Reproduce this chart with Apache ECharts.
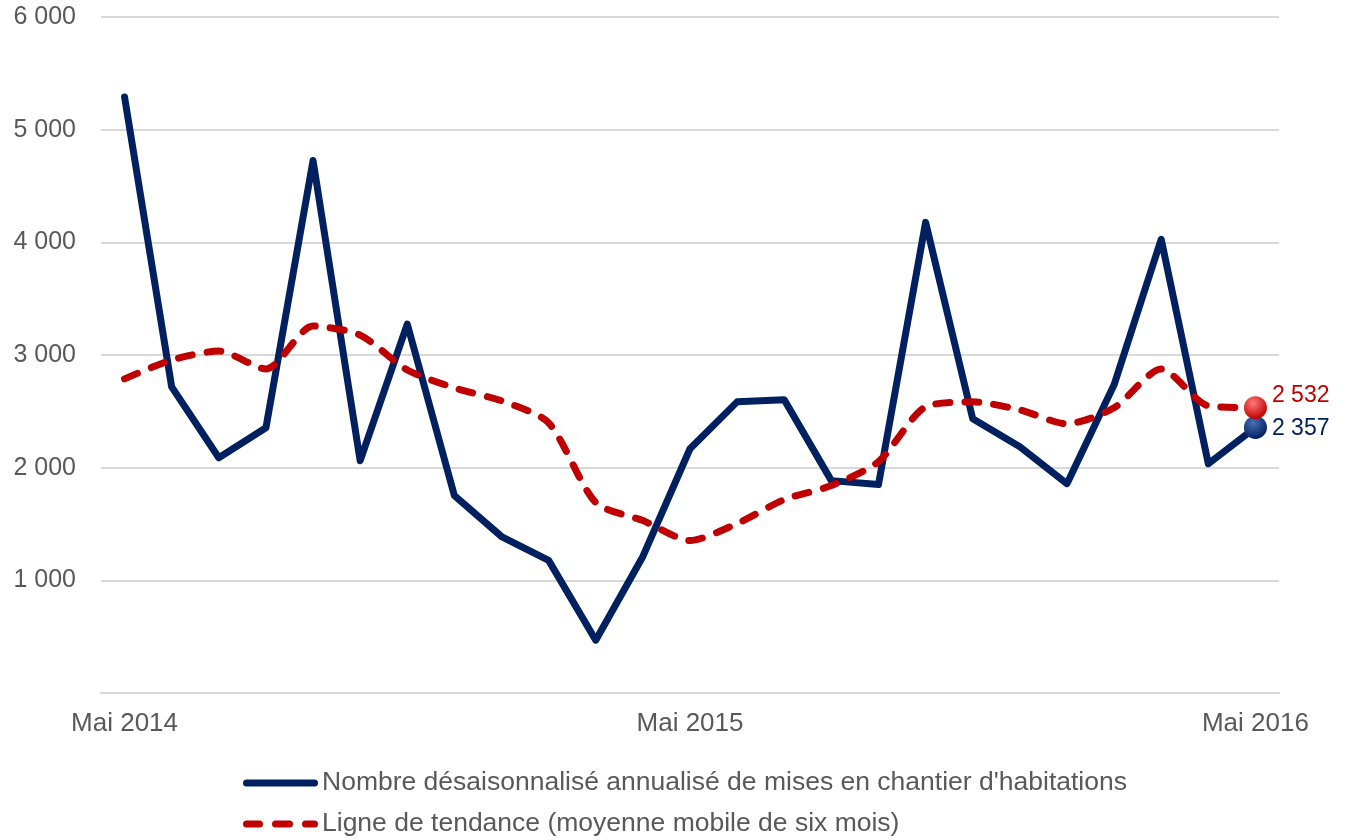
<!DOCTYPE html>
<html>
<head>
<meta charset="utf-8">
<script src="https://cdn.jsdelivr.net/npm/echarts@6/dist/echarts.min.js"></script>
<style>
  html, body { margin: 0; padding: 0; background: #fff; }
  #chart { width: 1351px; height: 840px; }
</style>
</head>
<body>
<div id="chart"></div>
<script>
const months = [
  'Mai 2014', 'Juin 2014', 'Juil 2014', 'Août 2014', 'Sept 2014', 'Oct 2014', 'Nov 2014', 'Déc 2014',
  'Janv 2015', 'Févr 2015', 'Mars 2015', 'Avr 2015', 'Mai 2015', 'Juin 2015', 'Juil 2015', 'Août 2015',
  'Sept 2015', 'Oct 2015', 'Nov 2015', 'Déc 2015', 'Janv 2016', 'Févr 2016', 'Mars 2016', 'Avr 2016', 'Mai 2016'
]
const shownLabels = ['Mai 2014', 'Mai 2015', 'Mai 2016']

const starts = [5290, 2717, 2088, 2354, 4726, 2062, 3274, 1752, 1389, 1177, 469, 1212, 2168,
  2584, 2602, 1885, 1850, 4177, 2434, 2186, 1858, 2735, 4027, 2035, 2357]
const trend = [2788, 2956, 3035, 2876, 3257, 3177, 2867, 2708, 2593, 2398, 1690, 1531, 1354,
  1504, 1717, 1841, 2053, 2540, 2584, 2513, 2389, 2531, 2876, 2549, 2532]

const blue = '#002060'
const red = '#c00000'
const txt = '#595959'
const font = 'Liberation Sans'

const startsName = "Nombre désaisonnalisé annualisé de mises en chantier d'habitations"
const trendName = 'Ligne de tendance (moyenne mobile de six mois)'

// icônes de légende : trait plein et trait pointillé arrondis
const solidIcon = 'path://M3.5,0 L71.5,0 A3.5,3.5 0 0 1 71.5,7 L3.5,7 A3.5,3.5 0 0 1 3.5,0 Z'
const dashIcon = 'path://M3.5,0 L16.5,0 A3.5,3.5 0 0 1 16.5,7 L3.5,7 A3.5,3.5 0 0 1 3.5,0 Z ' +
  'M32.5,0 L46.5,0 A3.5,3.5 0 0 1 46.5,7 L32.5,7 A3.5,3.5 0 0 1 32.5,0 Z ' +
  'M62.5,0 L71.5,0 A3.5,3.5 0 0 1 71.5,7 L62.5,7 A3.5,3.5 0 0 1 62.5,0 Z'

const fmt = (v) => String(v).replace(/\B(?=(\d{3})+(?!\d))/g, ' ')

// seul le dernier point porte un marqueur et une étiquette
const withEndPoint = (values, color, light, dy) => values.map((v, i) => {
  if (i !== values.length - 1) return v
  return {
    value: v,
    symbol: 'circle',
    symbolSize: 23,
    itemStyle: {
      color: new echarts.graphic.RadialGradient(0.4, 0.3, 0.7, [
        { offset: 0, color: light },
        { offset: 1, color: color }
      ])
    },
    label: {
      show: true,
      position: 'right',
      distance: 5,
      offset: [0, dy],
      formatter: (p) => fmt(p.value),
      color: color,
      fontSize: 23,
      fontFamily: font
    }
  }
})

const chart = echarts.init(document.getElementById('chart'))
chart.setOption({
  animation: false,
  textStyle: { fontFamily: font },
  grid: { left: 101, right: 72, top: 17, bottom: 147 },
  legend: {
    orient: 'vertical',
    left: 243,
    top: 768,
    padding: 0,
    itemWidth: 75,
    itemHeight: 7,
    itemGap: 11,
    itemStyle: { borderWidth: 0 },
    textStyle: { color: txt, fontSize: 26.5, fontFamily: font, lineHeight: 30, padding: [0, 0, 0, -1] },
    data: [
      { name: startsName, icon: solidIcon, itemStyle: { color: blue } },
      { name: trendName, icon: dashIcon, itemStyle: { color: red } }
    ]
  },
  xAxis: {
    type: 'category',
    data: months,
    boundaryGap: true,
    axisLine: { lineStyle: { color: '#d9d9d9', width: 2 } },
    axisTick: { show: false },
    axisLabel: {
      interval: 0,
      formatter: (v) => shownLabels.includes(v) ? v : '',
      color: txt,
      fontSize: 26,
      fontFamily: font,
      margin: 18
    }
  },
  yAxis: {
    type: 'value',
    min: 0,
    max: 6000,
    interval: 1000,
    axisLine: { show: false },
    axisTick: { show: false },
    splitLine: { lineStyle: { color: '#d9d9d9', width: 2 } },
    axisLabel: {
      showMinLabel: false,
      formatter: fmt,
      color: txt,
      fontSize: 25,
      fontFamily: font,
      margin: 25
    }
  },
  series: [
    {
      name: startsName,
      type: 'line',
      data: withEndPoint(starts, blue, '#4a6fb5', 1),
      symbol: 'none',
      color: blue,
      lineStyle: { color: blue, width: 7, cap: 'round', join: 'round' },
      z: 3
    },
    {
      name: trendName,
      type: 'line',
      data: withEndPoint(trend, red, '#ff7a7a', -12),
      symbol: 'none',
      smooth: 0.25,
      color: red,
      lineStyle: { color: red, width: 7, type: [14, 15], cap: 'round', join: 'round' },
      z: 4
    }
  ]
})
</script>
</body>
</html>
